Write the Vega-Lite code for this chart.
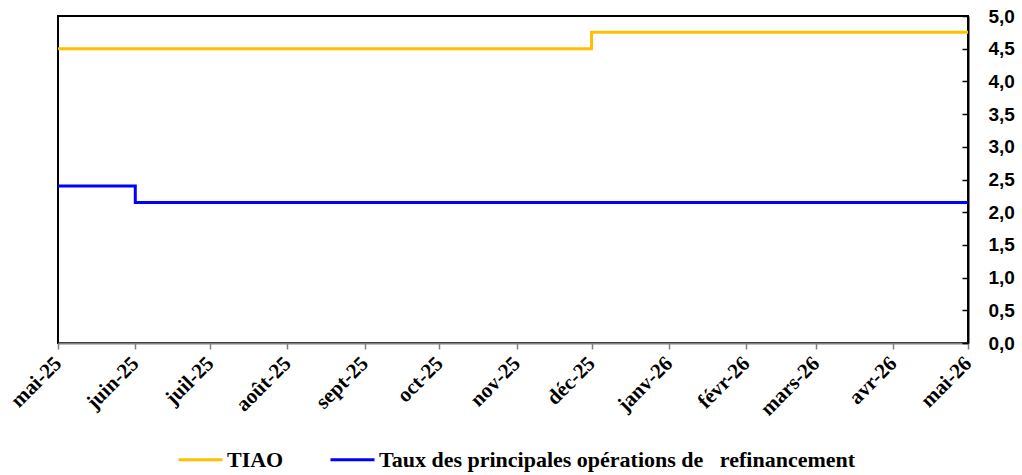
{
  "$schema": "https://vega.github.io/schema/vega-lite/v6.json",
  "width": 910,
  "height": 327,
  "autosize": {"type": "none"},
  "padding": {"left": 58, "top": 16, "right": 54, "bottom": 132},
  "background": "white",
  "config": {
    "view": {"stroke": "#000000", "strokeWidth": 2},
    "axis": {"grid": false}
  },
  "data": {
    "values": [
      {"date": "2025-05-01T00:00:00", "taux": 4.50, "serie": "TIAO"},
      {"date": "2025-12-01T00:00:00", "taux": 4.75, "serie": "TIAO"},
      {"date": "2026-05-01T00:00:00", "taux": 4.75, "serie": "TIAO"},
      {"date": "2025-05-01T00:00:00", "taux": 2.40, "serie": "Taux des principales opérations de\u00a0\u00a0 refinancement"},
      {"date": "2025-06-01T00:00:00", "taux": 2.15, "serie": "Taux des principales opérations de\u00a0\u00a0 refinancement"},
      {"date": "2026-05-01T00:00:00", "taux": 2.15, "serie": "Taux des principales opérations de\u00a0\u00a0 refinancement"}
    ]
  },
  "mark": {"type": "line", "interpolate": "step-after", "strokeWidth": 3, "clip": false},
  "encoding": {
    "x": {
      "field": "date",
      "type": "temporal",
      "scale": {"domain": ["2025-05-01T00:00:00", "2026-05-01T00:00:00"], "nice": false},
      "axis": {
        "title": null,
        "tickCount": {"interval": "month", "step": 1},
        "labelExpr": "['janv','févr','mars','avr','mai','juin','juil','août','sept','oct','nov','déc'][month(datum.value)] + '-' + timeFormat(datum.value, '%y')",
        "labelAngle": 315,
        "labelAlign": "right",
        "labelBaseline": "middle",
        "labelFont": "Liberation Serif",
        "labelFontWeight": "bold",
        "labelFontSize": 21,
        "labelColor": "#000000",
        "labelPadding": 11,
        "labelOverlap": false,
        "labelFlush": false,
        "domainColor": "#808080",
        "domainWidth": 2,
        "tickColor": "#808080",
        "tickWidth": 1.5,
        "tickSize": 6
      }
    },
    "y": {
      "field": "taux",
      "type": "quantitative",
      "scale": {"domain": [0, 5], "nice": false, "zero": true},
      "axis": {
        "orient": "right",
        "title": null,
        "values": [0, 0.5, 1, 1.5, 2, 2.5, 3, 3.5, 4, 4.5, 5],
        "labelExpr": "replace(format(datum.value, '.1f'), '.', ',')",
        "labelFont": "Liberation Sans",
        "labelFontWeight": "bold",
        "labelFontSize": 19,
        "labelColor": "#000000",
        "labelPadding": 26,
        "domainColor": "#000000",
        "domainWidth": 2,
        "tickColor": "#000000",
        "tickWidth": 1.5,
        "tickSize": -6
      }
    },
    "color": {
      "field": "serie",
      "type": "nominal",
      "sort": null,
      "scale": {
        "domain": ["TIAO", "Taux des principales opérations de\u00a0\u00a0 refinancement"],
        "range": ["#FFC000", "#0000FF"]
      },
      "legend": {
        "title": null,
        "orient": "none",
        "direction": "horizontal",
        "legendX": 119,
        "legendY": 420,
        "symbolType": "stroke",
        "symbolSize": 1936,
        "symbolStrokeWidth": 3,
        "labelFont": "Liberation Serif",
        "labelFontWeight": "bold",
        "labelFontSize": 22,
        "labelColor": "#000000",
        "labelOffset": 3,
        "columnPadding": 40,
        "labelLimit": 0
      }
    }
  }
}
